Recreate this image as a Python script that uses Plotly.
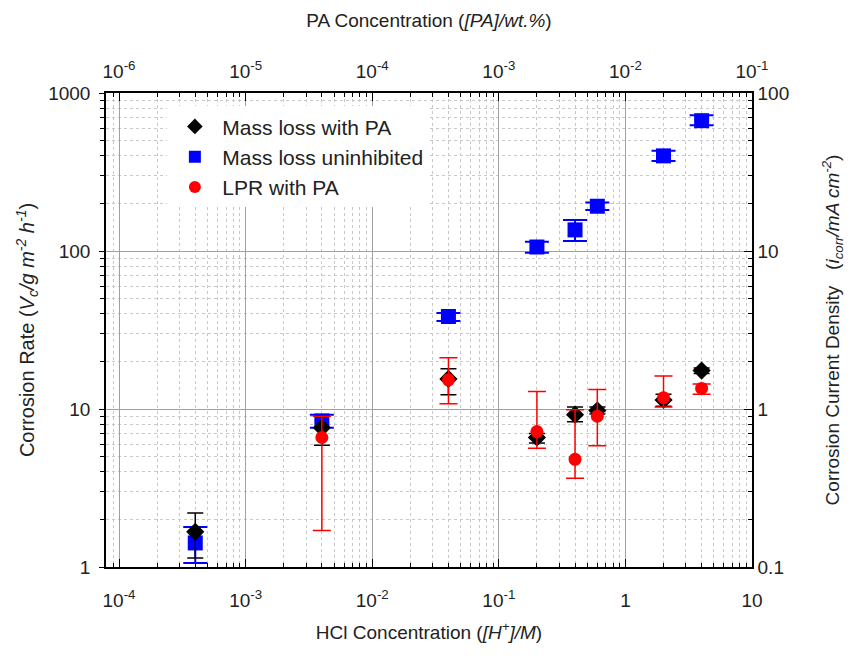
import plotly.graph_objects as go

# ---- data ----
hcl = [4e-4, 4e-3, 4e-2, 0.2, 0.4, 0.6, 2, 4]

uninhib = [1.42, 8.4, 38.5, 106, 136, 192, 400, 668]
uninhib_hi = [1.79, 9.2, 40.5, 114.5, 157, 203, 431, 722]
uninhib_lo = [1.06, 7.6, 36.0, 97.5, 115.6, 182, 371, 625]

ml_pa = [1.67, 7.6, 15.5, 6.6, 9.2, 9.8, 11.4, 17.5]
ml_pa_hi = [2.2, 9.0, 18.0, 7.0, 10.3, 10.3, 12.4, 18.2]
ml_pa_lo = [1.14, 5.9, 12.3, 6.1, 8.3, 9.3, 10.4, 16.8]

lpr_x = [4e-3, 4e-2, 0.2, 0.4, 0.6, 2, 4]
lpr = [6.6, 15.3, 7.2, 4.8, 9.0, 11.8, 13.5]
lpr_hi = [9.0, 21.1, 12.9, 9.9, 13.3, 16.2, 14.4]
lpr_lo = [1.7, 10.8, 5.64, 3.64, 5.86, 10.3, 12.4]

x_tickvals = [1e-4, 1e-3, 1e-2, 1e-1, 1, 10]
x_ticktext = ["10<sup>-4</sup>", "10<sup>-3</sup>", "10<sup>-2</sup>", "10<sup>-1</sup>", "1", "10"]
top_tickvals = [1e-6, 1e-5, 1e-4, 1e-3, 1e-2, 1e-1]
top_ticktext = ["10<sup>-6</sup>", "10<sup>-5</sup>", "10<sup>-4</sup>", "10<sup>-3</sup>", "10<sup>-2</sup>", "10<sup>-1</sup>"]
y_tickvals = [1, 10, 100, 1000]
y_ticktext = ["1", "10", "100", "1000"]
y2_tickvals = [0.1, 1, 10, 100]
y2_ticktext = ["0.1", "1", "10", "100"]

def diffs(v, hi, lo):
    return [h - a for a, h in zip(v, hi)], [a - l for a, l in zip(v, lo)]

FONT = "Liberation Sans, Arial, sans-serif"
TXT = "#222222"

fig = go.Figure()

up, dn = diffs(uninhib, uninhib_hi, uninhib_lo)
fig.add_trace(go.Scatter(
    x=hcl, y=uninhib, mode="markers", name="Mass loss uninhibited",
    marker=dict(symbol="square", size=15, color="#0000ff"),
    error_y=dict(type="data", array=up, arrayminus=dn, color="#0000ff", thickness=2, width=12),
))
up, dn = diffs(ml_pa, ml_pa_hi, ml_pa_lo)
fig.add_trace(go.Scatter(
    x=hcl, y=ml_pa, mode="markers", name="Mass loss with PA",
    marker=dict(symbol="diamond", size=14, color="#000000"),
    error_y=dict(type="data", array=up, arrayminus=dn, color="#000000", thickness=1.5, width=8),
))
up, dn = diffs(lpr, lpr_hi, lpr_lo)
fig.add_trace(go.Scatter(
    x=lpr_x, y=lpr, mode="markers", name="LPR with PA",
    marker=dict(symbol="circle", size=13, color="#ff0000"),
    error_y=dict(type="data", array=up, arrayminus=dn, color="#ff0000", thickness=1.5, width=9),
))
# invisible trace to anchor secondary axes
fig.add_trace(go.Scatter(x=[1e-4], y=[1], xaxis="x2", yaxis="y2", mode="markers",
                         marker=dict(opacity=0), showlegend=False, hoverinfo="skip"))

# legend order: Mass loss with PA, Mass loss uninhibited, LPR with PA
fig.data[1].legendrank = 1
fig.data[0].legendrank = 2
fig.data[2].legendrank = 3

minor_grid = dict(dtick="D1", showgrid=True, gridcolor="#c8c8c8", griddash="dot", gridwidth=1,
                  tickcolor="black", ticklen=4)

fig.update_layout(
    width=856, height=659,
    margin=dict(l=106, r=104, t=93, b=92),
    paper_bgcolor="white", plot_bgcolor="white",
    font=dict(family=FONT, size=16, color=TXT),
    showlegend=True,
    legend=dict(x=0.095, y=0.972, xanchor="left", yanchor="top", bgcolor="white",
                font=dict(size=21, color=TXT), itemsizing="constant", tracegroupgap=0,
                itemwidth=45),
    xaxis=dict(
        type="log", range=[-4.103, 1.0], tickvals=x_tickvals, ticktext=x_ticktext,
        ticks="inside", ticklen=8, tickcolor="black", tickwidth=1,
        showline=True, linecolor="black", linewidth=1.5, mirror=False,
        showgrid=True, gridcolor="#a0a0a0", gridwidth=1,
        minor=dict(ticks="inside", **minor_grid),
        tickfont=dict(size=19), ticklabelstandoff=15,
        title=dict(text="HCl Concentration (<i>[H<sup>+</sup>]/M</i>)", font=dict(size=19), standoff=16),
        zeroline=False,
    ),
    yaxis=dict(
        type="log", range=[0, 3], tickvals=y_tickvals, ticktext=y_ticktext,
        ticks="outside", ticklen=5, tickcolor="black",
        showline=True, linecolor="black", linewidth=1.5,
        showgrid=True, gridcolor="#a0a0a0", gridwidth=1,
        minor=dict(ticks="outside", **minor_grid),
        tickfont=dict(size=19), ticklabelstandoff=5,
        title=dict(text="Corrosion Rate (<i>V<sub>c</sub>/g m<sup>-2</sup> h<sup>-1</sup></i>)",
                   font=dict(size=20), standoff=8),
        zeroline=False,
    ),
    xaxis2=dict(
        type="log", range=[-6.103, -1.0], overlaying="x", side="top", anchor="y",
        tickvals=top_tickvals, ticktext=top_ticktext,
        ticks="inside", ticklen=8, tickcolor="black",
        showline=True, linecolor="black", linewidth=1.5,
        showgrid=False,
        minor=dict(ticks="inside", dtick="D1", ticklen=4, tickcolor="black", showgrid=False),
        tickfont=dict(size=19), ticklabelstandoff=6,
        title=dict(text="PA Concentration (<i>[PA]/wt.%</i>)", font=dict(size=19), standoff=25),
        zeroline=False,
    ),
    yaxis2=dict(
        type="log", range=[-1, 2], overlaying="y", side="right", anchor="x",
        tickvals=y2_tickvals, ticktext=y2_ticktext,
        ticks="inside", ticklen=8, tickcolor="black",
        showline=True, linecolor="black", linewidth=1.5,
        showgrid=False,
        minor=dict(ticks="inside", dtick="D1", ticklen=4, tickcolor="black", showgrid=False),
        tickfont=dict(size=19),
        title=dict(text="Corrosion Current Density   (<i>i<sub>corr</sub>/mA cm<sup>-2</sup></i>)",
                   font=dict(size=19), standoff=37),
        zeroline=False,
    ),
)

fig.write_html("out.html")
